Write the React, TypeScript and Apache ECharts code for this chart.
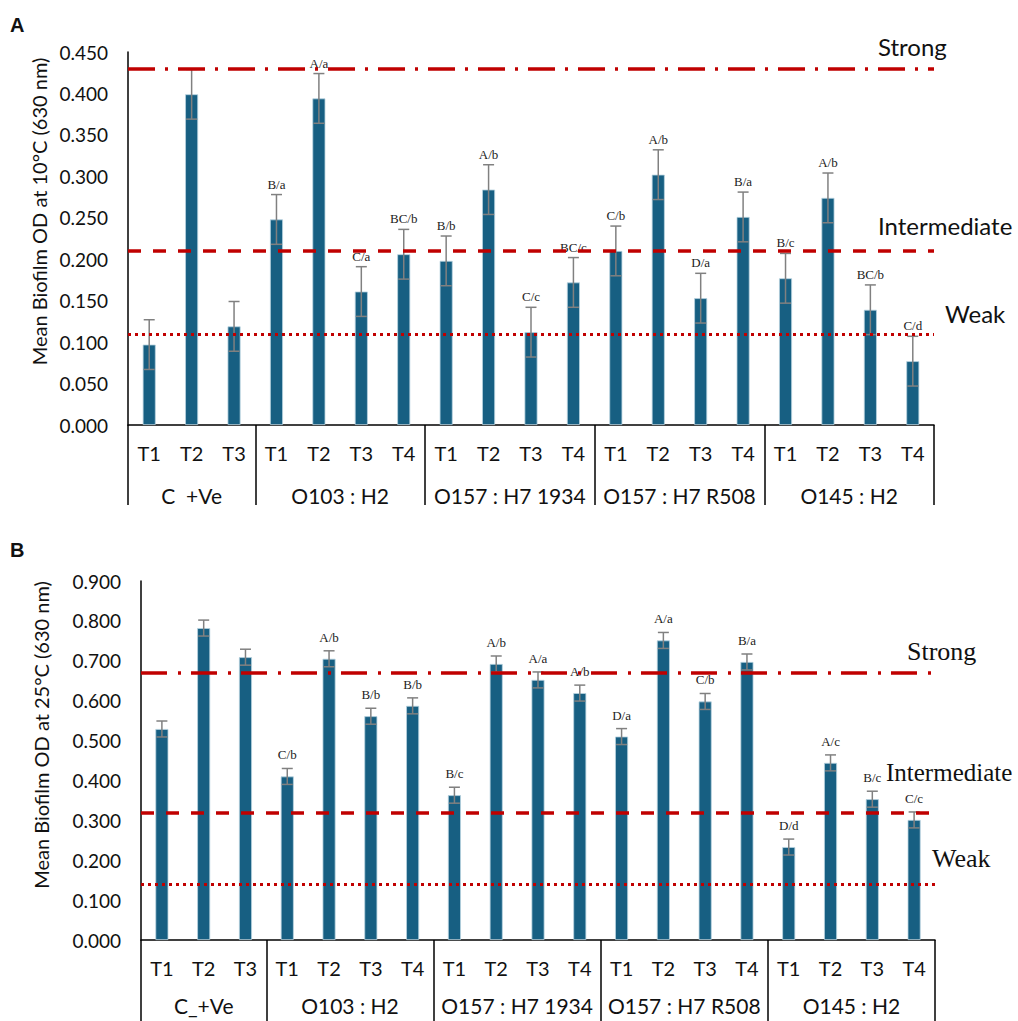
import { useEffect, useRef } from 'react';
import * as echarts from 'echarts';

const categories = ['T1', 'T2', 'T3', 'T1', 'T2', 'T3', 'T4', 'T1', 'T2', 'T3', 'T4', 'T1', 'T2', 'T3', 'T4', 'T1', 'T2', 'T3', 'T4'];
const groupSizes = [3, 4, 4, 4, 4];
const groupNamesA = ['C  +Ve', 'O103 : H2', 'O157 : H7 1934', 'O157 : H7 R508', 'O145 : H2'];
const groupNamesB = ['C_+Ve', 'O103 : H2', 'O157 : H7 1934', 'O157 : H7 R508', 'O145 : H2'];

const meansA = [0.097, 0.399, 0.119, 0.248, 0.394, 0.161, 0.206, 0.198, 0.284, 0.112, 0.172, 0.210, 0.302, 0.153, 0.251, 0.177, 0.274, 0.139, 0.077];
const errA = [0.03, 0.03, 0.03, 0.03, 0.03, 0.03, 0.03, 0.03, 0.03, 0.03, 0.03, 0.03, 0.03, 0.03, 0.03, 0.03, 0.03, 0.03, 0.03];
const lettersA = ['', '', '', 'B/a', 'A/a', 'C/a', 'BC/b', 'B/b', 'A/b', 'C/c', 'BC/c', 'C/b', 'A/b', 'D/a', 'B/a', 'B/c', 'A/b', 'BC/b', 'C/d'];

const meansB = [0.529, 0.782, 0.709, 0.410, 0.705, 0.561, 0.587, 0.363, 0.692, 0.652, 0.619, 0.510, 0.751, 0.598, 0.697, 0.233, 0.444, 0.353, 0.301];
const errB = [0.02, 0.02, 0.02, 0.02, 0.02, 0.02, 0.02, 0.02, 0.02, 0.02, 0.02, 0.02, 0.02, 0.02, 0.02, 0.02, 0.02, 0.02, 0.02];
const lettersB = ['', '', '', 'C/b', 'A/b', 'B/b', 'B/b', 'B/c', 'A/b', 'A/a', 'A/b', 'D/a', 'A/a', 'C/b', 'B/a', 'D/d', 'A/c', 'B/c', 'C/c'];

const thresholdNames = ['Strong', 'Intermediate', 'Weak'];
const thresholdsA = [0.434, 0.210, 0.107];
const thresholdsB = [0.673, 0.321, 0.137];

const yMaxA = 0.45;
const yStepA = 0.05;
const yMaxB = 0.9;
const yStepB = 0.1;

const BAR = '#175f82';
const RED = '#c00000';
const ERR = '#808080';

function buildGroupAxis(names: string[]) {
  const total = groupSizes.reduce((a, b) => a + b, 0) * 2;
  const arr: string[] = new Array(total + 1).fill('');
  let start = 0;
  groupSizes.forEach((s, i) => {
    arr[start * 2 + s] = names[i];
    start += s;
  });
  return arr;
}
function boundaryIdx() {
  const b = [0];
  let c = 0;
  groupSizes.forEach((s) => {
    c += s;
    b.push(c * 2);
  });
  return b;
}

function errSeries(xi: number, yi: number, means: number[], errs: number[], letters: string[], gap: number) {
  return {
    type: 'custom',
    xAxisIndex: xi,
    yAxisIndex: yi,
    z: 4,
    data: means.map((m, i) => [i, m, errs[i]]),
    encode: { x: 0, y: 1 },
    renderItem: (params: any, api: any) => {
      const x = api.value(0);
      const m = api.value(1);
      const e = api.value(2);
      const top = api.coord([x, m + e]);
      const bot = api.coord([x, m - e]);
      const cap = 5.5;
      const st = { stroke: ERR, lineWidth: 1.5 };
      const children: any[] = [
        { type: 'line', shape: { x1: top[0], y1: top[1], x2: bot[0], y2: bot[1] }, style: st },
        { type: 'line', shape: { x1: top[0] - cap, y1: top[1], x2: top[0] + cap, y2: top[1] }, style: st },
        { type: 'line', shape: { x1: bot[0] - cap, y1: bot[1], x2: bot[0] + cap, y2: bot[1] }, style: st },
      ];
      const t = letters[params.dataIndex];
      if (t) {
        children.push({
          type: 'text',
          x: top[0],
          y: top[1] - gap,
          style: { text: t, font: '13px "Liberation Serif"', fill: '#222', align: 'center', verticalAlign: 'bottom' },
        });
      }
      return { type: 'group', children };
    },
  };
}

function markLines(th: number[], strongDash: number[]) {
  return {
    symbol: 'none',
    silent: true,
    label: { show: false },
    data: [
      { yAxis: th[0], lineStyle: { type: strongDash, color: RED, width: 3.5 } },
      { yAxis: th[1], lineStyle: { type: [13, 12], color: RED, width: 3.5 } },
      { yAxis: th[2], lineStyle: { type: [3, 4], color: RED, width: 3 } },
    ],
  };
}

export default function App() {
  const ref = useRef<HTMLDivElement>(null);
  useEffect(() => {
    if (!ref.current) return;
    const chart = echarts.init(ref.current, null, { renderer: 'svg' });
    const bounds = boundaryIdx();
    const font = 'Lato';
    const mkX = (gi: number, names: string[], tickLen: number, groupMargin: number) => [
      {
        gridIndex: gi,
        type: 'category',
        data: categories,
        axisLine: { lineStyle: { color: '#000', width: 1.5 } },
        axisTick: { show: false },
        axisLabel: { interval: 0, margin: 18, fontSize: 20, fontFamily: font, color: '#111' },
      },
      {
        gridIndex: gi,
        type: 'category',
        position: 'bottom',
        boundaryGap: false,
        data: buildGroupAxis(names),
        axisLine: { show: false },
        axisTick: {
          show: true,
          length: tickLen,
          interval: (i: number) => bounds.includes(i),
          lineStyle: { color: '#000', width: 1.5 },
        },
        axisLabel: { interval: 0, margin: groupMargin, fontSize: 21, fontFamily: font, color: '#111' },
      },
    ];
    const mkY = (gi: number, max: number, step: number, name: string, gap: number, pad: number) => ({
      gridIndex: gi,
      type: 'value',
      min: 0,
      max,
      interval: step,
      axisLine: { show: true, lineStyle: { color: '#000', width: 1.5 } },
      axisTick: { show: false },
      splitLine: { show: false },
      axisLabel: { formatter: (v: number) => v.toFixed(3), fontSize: 19, fontFamily: font, color: '#111', margin: 20 },
      name,
      nameLocation: 'middle',
      nameGap: gap,
      nameTextStyle: { fontSize: 20, fontFamily: font, color: '#111', padding: [0, 0, 0, pad] },
    });

    const txt = (x: number, y: number, text: string, f: string) => ({
      type: 'text',
      x,
      y,
      style: { text, font: f, fill: '#111', align: 'left', verticalAlign: 'middle' },
    });

    chart.setOption({
      animation: false,
      backgroundColor: '#fff',
      grid: [
        { left: 128, top: 52, width: 806, height: 373 },
        { left: 141, top: 581, width: 794, height: 359 },
      ],
      xAxis: [...mkX(0, groupNamesA, 80, 60), ...mkX(1, groupNamesB, 85, 55)],
      yAxis: [
        mkY(0, yMaxA, yStepA, 'Mean Biofilm OD at 10°C (630 nm)', 77, 54),
        mkY(1, yMaxB, yStepB, 'Mean Biofilm OD at 25°C (630 nm)', 90, 51),
      ],
      series: [
        {
          type: 'bar',
          xAxisIndex: 0,
          yAxisIndex: 0,
          data: meansA,
          barWidth: 13,
          itemStyle: { color: BAR, borderColor: '#b9d3e0', borderWidth: 0.8 },
          markLine: markLines(thresholdsA, [27, 10, 3, 10]),
        },
        errSeries(0, 0, meansA, errA, lettersA, 4),
        {
          type: 'bar',
          xAxisIndex: 2,
          yAxisIndex: 1,
          data: meansB,
          barWidth: 13,
          itemStyle: { color: BAR, borderColor: '#b9d3e0', borderWidth: 0.8 },
          markLine: markLines(thresholdsB, [26, 11, 3, 10]),
        },
        errSeries(2, 1, meansB, errB, lettersB, 7),
      ],
      graphic: [
        txt(10, 25, 'A', 'bold 20px "Liberation Sans"'),
        txt(10, 550, 'B', 'bold 20px "Liberation Sans"'),
        txt(878, 46, thresholdNames[0], '24px Lato'),
        txt(878, 225, thresholdNames[1], '24px Lato'),
        txt(945, 313, thresholdNames[2], '24px Lato'),
        txt(907, 651, thresholdNames[0], '26px "Liberation Serif"'),
        txt(886, 772, thresholdNames[1], '25px "Liberation Serif"'),
        txt(932, 858, thresholdNames[2], '26px "Liberation Serif"'),
      ],
    });
    return () => chart.dispose();
  }, []);
  return <div ref={ref} style={{ position: 'absolute', left: 0, top: 0, width: 1018, height: 1021 }} />;
}
